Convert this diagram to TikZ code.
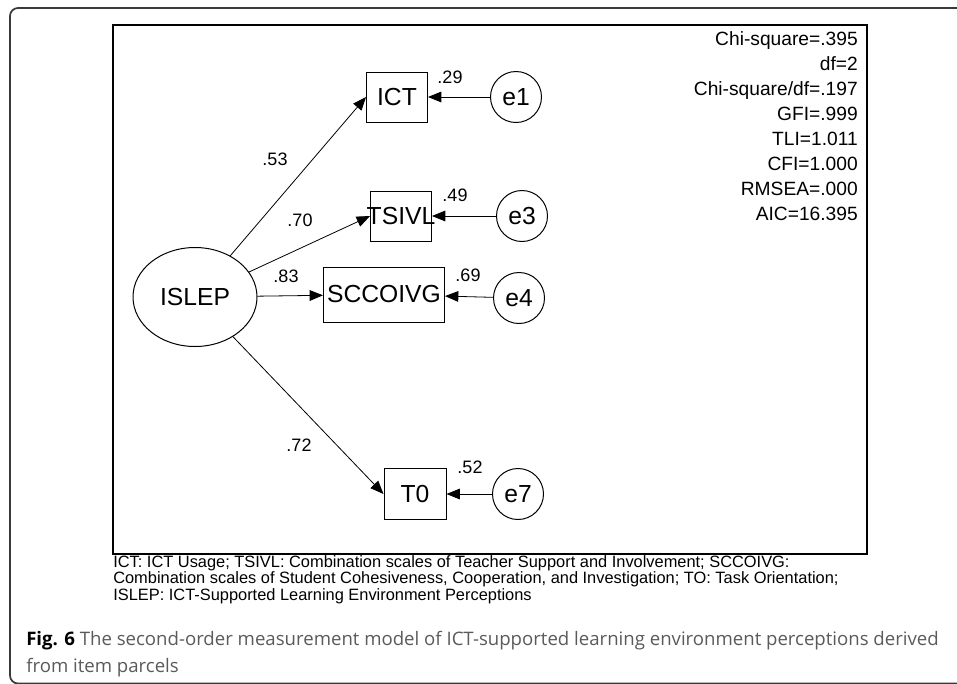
\documentclass[tikz,border=0pt]{standalone}
\usepackage{fontspec}
\setmainfont{Liberation Sans}
\newfontfamily\captionfont{Open Sans}
\usetikzlibrary{shapes,arrows.meta}
\definecolor{framegray}{HTML}{3A3A3A}
\definecolor{capgray}{HTML}{5A5A5A}
\tikzstyle{box} = [rectangle, draw, line width=0.75pt, inner sep=0pt,
                font=\fontsize{18.5}{20}\selectfont]
\tikzstyle{latent} = [ellipse, draw, line width=0.75pt, inner sep=0pt,
                minimum width=93pt, minimum height=74.25pt, font=\fontsize{18.5}{20}\selectfont]
\tikzstyle{err} = [circle, draw, line width=0.75pt, inner sep=0pt,
                minimum size=38.25pt, font=\fontsize{18.5}{20}\selectfont]
\tikzstyle{line} = [draw, line width=0.6pt, -{Triangle[length=10pt,width=8pt]}]
\tikzstyle{coef} = [inner sep=0pt, font=\fontsize{13.5}{15}\selectfont]

\begin{document}
\begin{tikzpicture}[x=0.75pt, y=-0.75pt]
            \useasboundingbox (0,0) rectangle (957,683);
            \draw[framegray, line width=1.3pt, rounded corners=6pt] (10,8) rectangle (975,683.5);
            \draw[line width=1pt] (113,25) rectangle (867,554);
            \node[latent] (islep) at (195,297) {ISLEP};
            \node[box, minimum width=45.75pt, minimum height=37.5pt] (ict) at (397,97) {ICT};
            \node[box, minimum width=45.75pt, minimum height=37.5pt] (tsivl) at (401,216) {\makebox[0pt]{TSIVL}};
            \node[box, minimum width=90.75pt, minimum height=41.25pt] (sccoivg) at (384,294.5) {SCCOIVG};
            \node[box, minimum width=46.5pt, minimum height=38.25pt] (t0) at (415,494) {T0};
            \node[err] (e1) at (516,97) {e1};
            \node[err] (e3) at (522,216) {e3};
            \node[err] (e4) at (519,298) {e4};
            \node[err] (e7) at (518,494) {e7};
            \path[line] (islep) -- (ict.west);
            \path[line] (islep) -- (tsivl.west);
            \path[line] (islep) -- (sccoivg);
            \path[line] (islep) -- (t0.west);
            \path[line] (e1) -- (ict);
            \path[line] (e3) -- (tsivl);
            \path[line] (e4) -- (sccoivg);
            \path[line] (e7) -- (t0);
            \node[coef] (l53) at (275,159) {.53};
            \node[coef] (l70) at (300,220) {.70};
            \node[coef] (l83) at (286,276) {.83};
            \node[coef] (l72) at (299,445) {.72};
            \node[coef] (l29) at (450,77) {.29};
            \node[coef] (l49) at (455,195) {.49};
            \node[coef] (l69) at (468,275) {.69};
            \node[coef] (l52) at (470,467) {.52};
            \node[inner sep=0pt, anchor=north east, align=right,
                  font=\fontsize{14.4}{18.8}\selectfont] (fit) at (858,31)
                  {Chi-square=.395\\ df=2\\ Chi-square/df=.197\\ GFI=.999\\ TLI=1.011\\ CFI=1.000\\ RMSEA=.000\\ AIC=16.395};
            \node[inner sep=0pt, anchor=north west, align=left,
                  font=\fontsize{12.3}{11}\selectfont] (notes) at (113,555)
                  {ICT: ICT Usage; TSIVL: Combination scales of Teacher Support and Involvement; SCCOIVG:\\
                   Combination scales of Student Cohesiveness, Cooperation, and Investigation; TO: Task Orientation;\\
                   ISLEP: ICT-Supported Learning Environment Perceptions};
            \node[inner sep=0pt, anchor=north west, align=left, text=capgray,
                  font=\captionfont\fontsize{13.95}{20.25}\selectfont] (caption) at (26,631)
                  {\textcolor{black}{\textbf{Fig. 6}} The second-order measurement model of ICT-supported learning environment perceptions derived\\
                   from item parcels};
        \end{tikzpicture}
\end{document}
